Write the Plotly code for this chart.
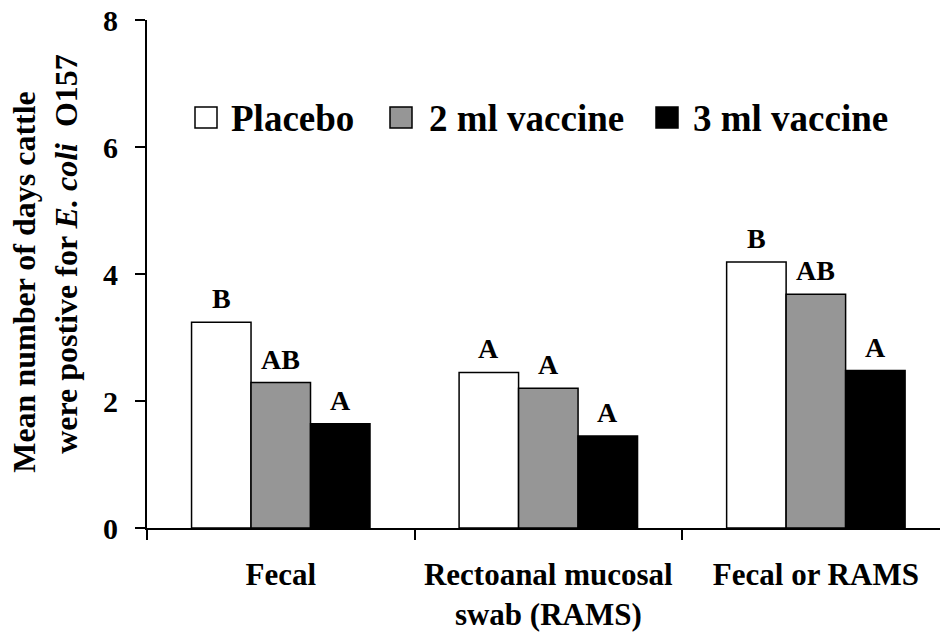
import plotly.graph_objects as go

# Data
categories = ["Fecal", "Rectoanal mucosal<br>swab (RAMS)", "Fecal or RAMS"]
series_names = ["Placebo", "2 ml vaccine", "3 ml vaccine"]
placebo = [3.24, 2.45, 4.19]
vaccine_2ml = [2.29, 2.20, 3.68]
vaccine_3ml = [1.64, 1.45, 2.48]
placebo_letters = ["B", "A", "B"]
vaccine_2ml_letters = ["AB", "A", "AB"]
vaccine_3ml_letters = ["A", "A", "A"]
y_ticks = [0, 2, 4, 6, 8]

series_values = [placebo, vaccine_2ml, vaccine_3ml]
series_letters = [placebo_letters, vaccine_2ml_letters, vaccine_3ml_letters]
fill_colors = ["#ffffff", "#969696", "#000000"]

FONT = "Times New Roman, Liberation Serif, DejaVu Serif, serif"
W, H = 940, 639
ML, MR, MT, MB = 147, 0, 20, 111
BARGAP = 0.333
NB = "\u00a0"

fig = go.Figure()
for name, vals, col in zip(series_names, series_values, fill_colors):
    fig.add_trace(go.Bar(
        x=categories, y=vals, name=name,
        marker=dict(color=col, line=dict(color="black", width=1.5)),
        showlegend=False,
    ))

# significance letters above each bar
bar_w = (1 - BARGAP) / len(series_values)
annotations = []
for j, (vals, letters) in enumerate(zip(series_values, series_letters)):
    off = (j - (len(series_values) - 1) / 2) * bar_w
    for i, (v, t) in enumerate(zip(vals, letters)):
        annotations.append(dict(
            x=i + off, y=v, xref="x", yref="y", text="<b>%s</b>" % t, showarrow=False,
            yanchor="bottom", yshift=6,
            font=dict(family=FONT, size=28, color="black"),
        ))

# legend row drawn across the top of the plot
pw, ph = W - ML - MR, H - MT - MB


def px(xp):
    return (xp - ML) / pw


def py(yp):
    return (H - MB - yp) / ph


shapes = []
legend_sq = [(195, 217), (390, 412), (656, 678)]
legend_txt_x = [229, 427, 691]
for (x0, x1), tx, name, col in zip(legend_sq, legend_txt_x, series_names, fill_colors):
    shapes.append(dict(
        type="rect", xref="paper", yref="paper",
        x0=px(x0), x1=px(x1), y0=py(128), y1=py(107),
        fillcolor=col, line=dict(color="black", width=1.5),
    ))
    annotations.append(dict(
        x=px(tx), y=py(118), xref="paper", yref="paper", text="<b>%s</b>" % name,
        showarrow=False, xanchor="left", yanchor="middle",
        font=dict(family=FONT, size=37, color="black"),
    ))

fig.update_layout(
    width=W, height=H,
    margin=dict(l=ML, r=MR, t=MT, b=MB, pad=0),
    paper_bgcolor="white", plot_bgcolor="white",
    font=dict(family=FONT, color="black"),
    barmode="group", bargap=BARGAP, bargroupgap=0,
    annotations=annotations, shapes=shapes,
    xaxis=dict(
        range=[-0.5, 2.464], tickson="boundaries", ticks="outside", ticklen=10,
        tickwidth=1.8, tickcolor="black", showline=True, linecolor="black",
        linewidth=1.8, showgrid=False, zeroline=False, ticklabelstandoff=18,
        tickfont=dict(family=FONT, size=31, color="black", weight="bold"),
    ),
    yaxis=dict(
        range=[0, 8], tickvals=y_ticks, ticks="outside", ticklen=10,
        tickwidth=1.8, tickcolor="black", showline=True, linecolor="black",
        linewidth=1.8, showgrid=False, zeroline=False, ticklabelstandoff=11,
        tickfont=dict(family=FONT, size=30, color="black", weight="bold"),
        title=dict(
            text=("<b>Mean number of days cattle" + NB * 2
                  + "<br>" + NB * 5 + "were postive for <i>E. coli</i>" + NB * 2 + "O157</b>"),
            font=dict(family=FONT, size=32, color="black"),
            standoff=16,
        ),
    ),
)

fig.write_html("out.html")
